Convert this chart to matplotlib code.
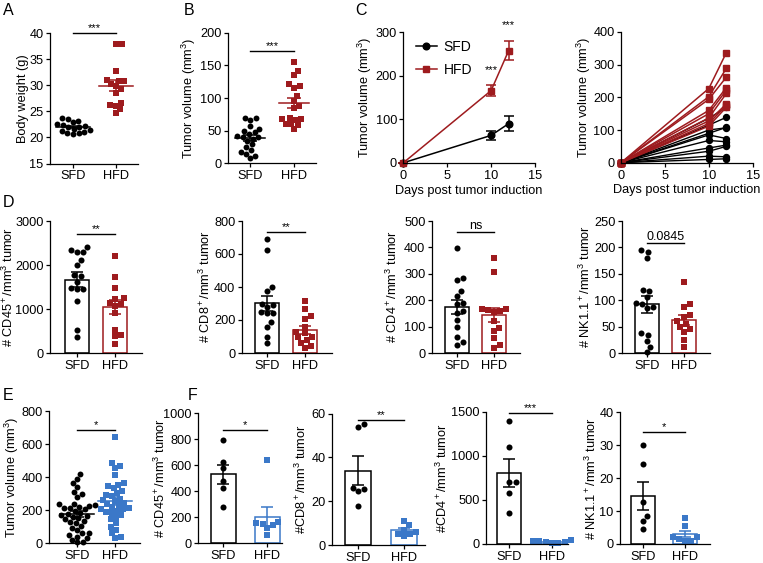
import numpy as np
import matplotlib
matplotlib.use("Agg")
import matplotlib.pyplot as plt
from matplotlib.lines import Line2D

plt.rcParams['font.family'] = ['Liberation Sans', 'DejaVu Sans']
plt.rcParams['mathtext.fontset'] = 'custom'
plt.rcParams['mathtext.rm'] = 'Liberation Sans'
plt.rcParams['mathtext.it'] = 'Liberation Sans:italic'
plt.rcParams['mathtext.bf'] = 'Liberation Sans:bold'
plt.rcParams['font.size'] = 9.2
plt.rcParams['axes.linewidth'] = 0.9
plt.rcParams['axes.labelpad'] = 2
plt.rcParams['xtick.major.width'] = 0.9
plt.rcParams['ytick.major.width'] = 0.9
plt.rcParams['xtick.major.size'] = 3
plt.rcParams['ytick.major.size'] = 3
plt.rcParams['xtick.major.pad'] = 2
plt.rcParams['ytick.major.pad'] = 1.5

RED = '#9e1b1e'
BLUE = '#3b78c8'
groups = ['SFD', 'HFD']

# A: body weight (g)
a_sfd = [23.7, 23.5, 23.2, 22.9, 22.6, 22.4, 22.2, 22.0, 21.9, 21.7, 21.5, 21.3, 21.1, 20.9, 20.8, 20.6]
a_hfd = [37.9, 37.9, 32.8, 31.0, 30.9, 30.8, 30.2, 29.8, 29.2, 28.6, 26.6, 26.3, 26.1, 25.4, 24.6]

# B: tumor volume (mm3)
b_sfd = [70, 69, 67, 57, 53, 50, 48, 45, 42, 41, 40, 38, 35, 29, 25, 20, 18, 15, 12, 8]
b_hfd = [155, 141, 135, 121, 118, 116, 103, 95, 88, 85, 70, 68, 68, 67, 61, 60, 59, 52]

# C: tumor growth, mean +- SEM
c_days = [0, 10, 12]
c_sfd_mean = [0, 63, 90]
c_sfd_sem = [0, 11, 18]
c_hfd_mean = [0, 166, 258]
c_hfd_sem = [0, 13, 21]

# C right: individual mice (day 10, day 12)
c2_sfd_d10 = [136, 115, 100, 90, 85, 68, 45, 35, 20, 10]
c2_sfd_d12 = [169, 139, 107, 108, 74, 64, 54, 50, 18, 12]
c2_hfd_d10 = [227, 202, 194, 160, 150, 137, 128, 120, 112]
c2_hfd_d12 = [337, 289, 262, 230, 222, 212, 180, 176, 170]

# D: immune infiltrates
d_cd45_sfd = [2420, 2350, 2290, 2300, 2110, 1990, 1780, 1740, 1620, 1470, 1460, 1450, 1190, 520, 360]
d_cd45_hfd = [2200, 1720, 1480, 1250, 1220, 1140, 1120, 1060, 900, 530, 400, 380, 200]
d_cd8_sfd = [690, 625, 400, 375, 300, 290, 280, 250, 245, 240, 190, 160, 100, 60]
d_cd8_hfd = [315, 265, 225, 205, 160, 130, 120, 100, 95, 80, 60, 40, 30]
d_cd4_sfd = [397, 283, 278, 235, 215, 190, 185, 160, 150, 125, 100, 62, 40, 30]
d_cd4_hfd = [360, 305, 168, 165, 162, 160, 155, 120, 95, 82, 55, 30, 20]
d_nk_sfd = [195, 192, 180, 120, 118, 107, 95, 93, 88, 85, 37, 34, 22, 12, 2]
d_nk_hfd = [135, 92, 88, 72, 68, 60, 55, 50, 45, 40, 25, 12]

# E: tumor volume (mm3)
e_sfd = [418, 388, 362, 340, 312, 300, 282, 240, 235, 230, 220, 215, 228, 215, 205, 195,
         185, 178, 172, 165, 160, 152, 145, 135, 128, 120, 105, 92, 80, 65, 50, 32, 20, 10,
         40, 60, 5]
e_hfd = [640, 488, 470, 458, 415, 365, 355, 345, 335, 318, 305, 295, 285, 270, 262, 255,
         245, 238, 230, 222, 215, 210, 205, 198, 190, 182, 172, 160, 145, 125, 100, 82, 60, 38, 30]

# F: immune infiltrates
f_cd45_sfd = [795, 625, 575, 480, 420, 280]
f_cd45_hfd = [640, 160, 155, 150, 140, 115, 65]
f_cd8_sfd = [55, 54, 26, 25.5, 24.5, 18]
f_cd8_hfd = [11, 9, 7, 6, 5, 5, 4]
f_cd4_sfd = [1400, 1100, 705, 700, 575, 355]
f_cd4_hfd = [40, 35, 30, 25, 20, 15, 10]
f_nk_sfd = [30, 24.2, 12.7, 8.6, 7.1, 4.5]
f_nk_hfd = [8, 5.5, 2.2, 2.0, 1.5, 1.0, 0.8]

W, H = 763, 563
fig = plt.figure(figsize=(W / 100, H / 100), dpi=100)


def add_ax(x0, x1, y0, y1):
    return fig.add_axes([x0 / W, 1 - y1 / H, (x1 - x0) / W, (y1 - y0) / H])


def style(ax, ylim, yticks, xlim=None, cats=True):
    ax.spines['top'].set_visible(False)
    ax.spines['right'].set_visible(False)
    ax.set_ylim(*ylim)
    ax.set_yticks(yticks)
    if xlim is not None:
        ax.set_xlim(*xlim)
    if cats:
        ax.set_xticks([0, 1])
        ax.set_xticklabels(groups)


def ylab(ax, text, xpx):
    # xpx: right edge (in figure pixels) of the rotated label
    ax.set_ylabel(text)
    pos = ax.get_position()
    ax.yaxis.set_label_coords((xpx / W - pos.x0) / pos.width, 0.5)


def swarm(ax, x0, vals, d=5.6):
    vals = np.asarray(vals, dtype=float)
    pts = ax.transData.transform(np.column_stack([np.full(len(vals), x0), vals]))
    ys = pts[:, 1]
    offs = np.zeros(len(vals))
    placed = []
    for i in np.argsort(ys):
        y = ys[i]
        cands = [0.0]
        for px, py in placed:
            dy = y - py
            if abs(dy) < d:
                dx = np.sqrt(d * d - dy * dy)
                cands += [px + dx, px - dx]
        cands.sort(key=abs)
        for c in cands:
            if all((c - px) ** 2 + (y - py) ** 2 >= d * d - 1e-6 for px, py in placed):
                offs[i] = c
                break
        placed.append((offs[i], y))
    back = ax.transData.inverted().transform(np.column_stack([pts[:, 0] + offs, ys]))
    return back[:, 0]


def sem(v):
    v = np.asarray(v, dtype=float)
    return v.std(ddof=1) / np.sqrt(len(v))


def scatter_panel(ax, sfd, hfd, hcol, w=0.4):
    for x, vals, col, mk in [(0, sfd, 'black', 'o'), (1, hfd, hcol, 's')]:
        xs = swarm(ax, x, vals, d=5.8)
        ax.scatter(xs, vals, s=18, marker=mk, color=col, linewidths=0, zorder=2, clip_on=False)
        m = np.mean(vals)
        ax.plot([x - w, x + w], [m, m], color=col, lw=1.1, zorder=3)
        ax.errorbar(x, m, yerr=sem(vals), color=col, capsize=5, elinewidth=1.1,
                    capthick=1.1, zorder=3)


def bar_panel(ax, sfd, hfd, hcol, bw=0.65):
    for x, vals, col, mk in [(0, sfd, 'black', 'o'), (1, hfd, hcol, 's')]:
        m = np.mean(vals)
        ax.bar(x, m, width=bw, color='white', edgecolor=col, linewidth=1.1, zorder=1)
        xs = swarm(ax, x, vals, d=6.4)
        ax.scatter(xs, vals, s=19, marker=mk, color=col, linewidths=0, zorder=2, clip_on=False)
        ax.errorbar(x, m, yerr=sem(vals), color=col, capsize=4.3, elinewidth=1.1,
                    capthick=1.1, zorder=3)


def sig(ax, y, text, size=8, x0=0, x1=1):
    ax.plot([x0, x1], [y, y], color='black', lw=1.0, clip_on=False)
    ax.text((x0 + x1) / 2, y, text, ha='center', va='bottom', fontsize=size)


def letter(x, y, s):
    fig.text(x / W, 1 - y / H, s, fontsize=11.5, ha='left', va='top')


# ---- A
ax = add_ax(50, 138, 33, 163.5)
style(ax, (15, 40), range(15, 41, 5), (-0.53, 1.51))
scatter_panel(ax, a_sfd, a_hfd, RED)
sig(ax, 40, '***')
ylab(ax, 'Body weight (g)', 29)

# ---- B
ax = add_ax(228, 316, 32.7, 163.4)
style(ax, (0, 200), range(0, 201, 50), (-0.5, 1.5))
scatter_panel(ax, b_sfd, b_hfd, RED, w=0.35)
sig(ax, 172, '***')
ylab(ax, 'Tumor volume (mm$^3$)', 198)

# ---- C left
ax = add_ax(403.3, 535, 32.3, 162.8)
style(ax, (0, 300), range(0, 301, 100), (0, 15), cats=False)
ax.set_xticks([0, 5, 10, 15])
ax.errorbar(c_days, c_sfd_mean, yerr=c_sfd_sem, color='black', marker='o', ms=4.8,
            lw=1.1, capsize=3.5, capthick=1.1, clip_on=False)
ax.errorbar(c_days, c_hfd_mean, yerr=c_hfd_sem, color=RED, marker='s', ms=4.8,
            lw=1.1, capsize=3.5, capthick=1.1, clip_on=False)
ax.text(10, 202, '***', ha='center', va='bottom', fontsize=8)
ax.text(12, 306, '***', ha='center', va='bottom', fontsize=8, clip_on=False)
ax.set_xlabel('Days post tumor induction')
ylab(ax, 'Tumor volume (mm$^3$)', 374)
handles = [Line2D([], [], color='black', marker='o', ms=4.8, lw=1.1),
           Line2D([], [], color=RED, marker='s', ms=4.8, lw=1.1)]
ax.legend(handles, groups, loc='upper left', bbox_to_anchor=(0.0, 1.04), frameon=False,
          fontsize=10, handlelength=1.5, labelspacing=0.7, handletextpad=0.5)

# ---- C right
ax = add_ax(621, 752.7, 32, 162.7)
style(ax, (0, 400), range(0, 401, 100), (0, 15), cats=False)
ax.set_xticks([0, 5, 10, 15])
for a10, a12 in zip(c2_sfd_d10, c2_sfd_d12):
    ax.plot(c_days, [0, a10, a12], color='black', marker='o', ms=4.3, lw=1.0, clip_on=False)
for a10, a12 in zip(c2_hfd_d10, c2_hfd_d12):
    ax.plot(c_days, [0, a10, a12], color=RED, marker='s', ms=4.3, lw=1.1, clip_on=False)
ax.set_xlabel('Days post tumor induction')
ylab(ax, 'Tumor volume (mm$^3$)', 593)

# ---- D row
ax = add_ax(50, 142, 221, 353)
style(ax, (0, 3000), range(0, 3001, 1000), (-0.71, 1.71))
bar_panel(ax, d_cd45_sfd, d_cd45_hfd, RED)
sig(ax, 2700, '**')
ylab(ax, '# CD45$^+$/mm$^3$ tumor', 16)

ax = add_ax(241.7, 331.7, 221, 353)
style(ax, (0, 800), range(0, 801, 200), (-0.67, 1.7))
bar_panel(ax, d_cd8_sfd, d_cd8_hfd, RED)
sig(ax, 735, '**')
ylab(ax, '# CD8$^+$/mm$^3$ tumor', 213)

ax = add_ax(431.7, 520, 221, 353)
style(ax, (0, 500), range(0, 501, 100), (-0.68, 1.7))
bar_panel(ax, d_cd4_sfd, d_cd4_hfd, RED)
sig(ax, 460, 'ns', size=9)
ylab(ax, '# CD4$^+$/mm$^3$ tumor', 400)

ax = add_ax(621.7, 710, 221, 353)
style(ax, (0, 250), range(0, 251, 50), (-0.67, 1.7))
bar_panel(ax, d_nk_sfd, d_nk_hfd, RED)
sig(ax, 209, '0.0845', size=9)
ylab(ax, '# NK1.1$^+$/mm$^3$ tumor', 593)

# ---- E
ax = add_ax(49.3, 140, 411, 543.3)
style(ax, (0, 800), range(0, 801, 200), (-0.73, 1.66))
scatter_panel(ax, e_sfd, e_hfd, BLUE, w=0.45)
sig(ax, 685, '*')
ylab(ax, 'Tumor volume (mm$^3$)', 21)

# ---- F row
ax = add_ax(198, 282, 413, 543)
style(ax, (0, 1000), range(0, 1001, 200), (-0.57, 1.34))
bar_panel(ax, f_cd45_sfd, f_cd45_hfd, BLUE, bw=0.57)
sig(ax, 870, '*')
ylab(ax, '# CD45$^+$/mm$^3$ tumor', 168)

ax = add_ax(331.7, 425, 413.5, 545)
style(ax, (0, 60), range(0, 61, 20), (-0.57, 1.45))
bar_panel(ax, f_cd8_sfd, f_cd8_hfd, BLUE, bw=0.57)
sig(ax, 57, '**')
ylab(ax, '#CD8$^+$/mm$^3$ tumor', 309)

ax = add_ax(486, 568, 411.7, 544)
style(ax, (0, 1500), range(0, 1501, 500), (-0.55, 1.38))
bar_panel(ax, f_cd4_sfd, f_cd4_hfd, BLUE, bw=0.57)
sig(ax, 1490, '***')
ylab(ax, '#CD4$^+$/mm$^3$ tumor', 450)

ax = add_ax(620, 710, 412.3, 544)
style(ax, (0, 40), range(0, 41, 10), (-0.54, 1.59))
bar_panel(ax, f_nk_sfd, f_nk_hfd, BLUE, bw=0.57)
sig(ax, 34, '*')
ylab(ax, '# NK1.1$^+$/mm$^3$ tumor', 599)

letter(3, 3, 'A')
letter(184, 3, 'B')
letter(355, 3, 'C')
letter(3, 195, 'D')
letter(3, 388, 'E')
letter(188, 388, 'F')

fig.savefig('out.png', dpi=100)
